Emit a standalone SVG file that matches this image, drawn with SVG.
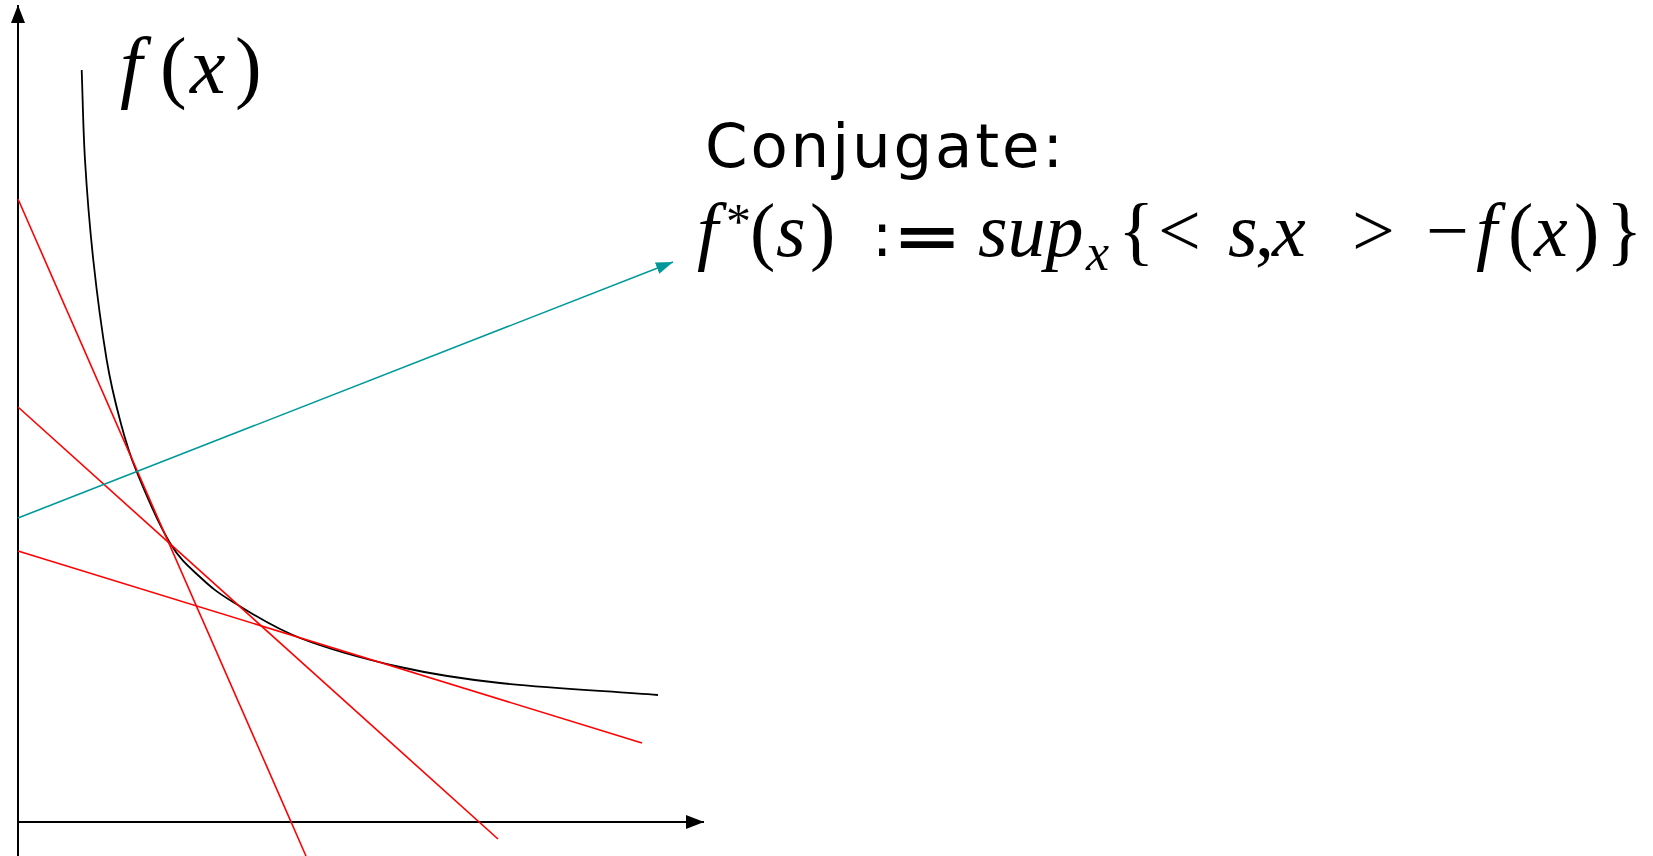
<svg xmlns="http://www.w3.org/2000/svg" width="1653" height="856" viewBox="0 0 1653 856">
<defs>
<style>
.axis{stroke:#000;stroke-width:2;fill:none}
.tan{stroke:#ff0000;stroke-width:1.6;fill:none}
.curve{stroke:#000;stroke-width:1.8;fill:none}
.teal{stroke:#009999;stroke-width:1.6;fill:none}
.m{font-family:"Liberation Serif","DejaVu Serif",serif;font-size:76px;fill:#000}
.mi{font-style:italic}
.sans{font-family:"DejaVu Sans","Liberation Sans",sans-serif;fill:#000}
</style>
<marker id="ah" markerUnits="userSpaceOnUse" markerWidth="20" markerHeight="16" refX="18" refY="7" orient="auto">
<path d="M0,0 L18,7 L0,14 z" fill="#000"/>
</marker>
<marker id="th" markerUnits="userSpaceOnUse" markerWidth="20" markerHeight="14" refX="17" refY="6" orient="auto">
<path d="M0,0 L17,6 L0,12 z" fill="#009999"/>
</marker>
</defs>
<rect width="1653" height="856" fill="#fff"/>
<g id="axes">
<line class="axis" x1="18" y1="856" x2="18" y2="5" marker-end="url(#ah)"/>
<line class="axis" x1="18" y1="822" x2="704" y2="822" marker-end="url(#ah)"/>
</g>
<g id="function-curve">
<path class="curve" d="M81.7,70 C82.8,100 83.1,128.3 85,160 C86.9,191.7 89.7,226.7 93.3,260 C96.9,293.3 102.3,333.3 106.7,360 C111.2,386.7 115.1,401.7 120,420 C124.9,438.3 127.7,449.5 136,470 C144.3,490.5 159.3,525.2 170,543 C180.7,560.8 189.5,567.2 200,577 C210.5,586.8 216.3,591.8 233,602 C249.7,612.2 272.2,627.2 300,638 C327.8,648.8 366.7,659.5 400,667 C433.3,674.5 457,678.3 500,683 C543,687.7 605.3,691 658,695"/>
</g>
<g id="connectors">
<line class="tan" x1="18" y1="199" x2="306" y2="856"/>
<line class="tan" x1="18" y1="407" x2="498" y2="839"/>
<line class="tan" x1="18" y1="551" x2="642" y2="743"/>
<line class="teal" x1="18" y1="518" x2="673" y2="262" marker-end="url(#th)"/>
</g>
<g id="label-fx" class="m" style="font-size:80px">
<text x="120" y="93" class="mi">f</text>
<text x="160" y="93">(</text>
<text x="190" y="93" class="mi">x</text>
<text x="235" y="93">)</text>
</g>
<g id="label-conjugate">
<text class="sans" x="705" y="167" font-size="61" textLength="358" lengthAdjust="spacing">Conjugate:</text>
</g>
<g id="formula" class="m">
<text x="697" y="256" class="mi">f</text>
<text x="726" y="238" style="font-size:50px">*</text>
<text x="750" y="256">(</text>
<text x="776" y="256" class="mi">s</text>
<text x="810" y="256">)</text>
<text class="sans" x="872" y="256" font-size="60">:</text>
<text class="sans" font-size="58" font-weight="bold" transform="translate(892,256) scale(1.45,1)">=</text>
<text x="978" y="256" class="mi">sup</text>
<text x="1086" y="270" class="mi" style="font-size:52px">x</text>
<text x="1118" y="256">{</text>
<text x="1158" y="256">&lt;</text>
<text x="1228" y="256" class="mi">s</text>
<text x="1255" y="256">,</text>
<text x="1272" y="256" class="mi">x</text>
<text x="1352" y="256">&gt;</text>
<text x="1426" y="256">−</text>
<text x="1476" y="256" class="mi">f</text>
<text x="1508" y="256">(</text>
<text x="1534" y="256" class="mi">x</text>
<text x="1574" y="256">)</text>
<text x="1606" y="256">}</text>
</g>
</svg>
